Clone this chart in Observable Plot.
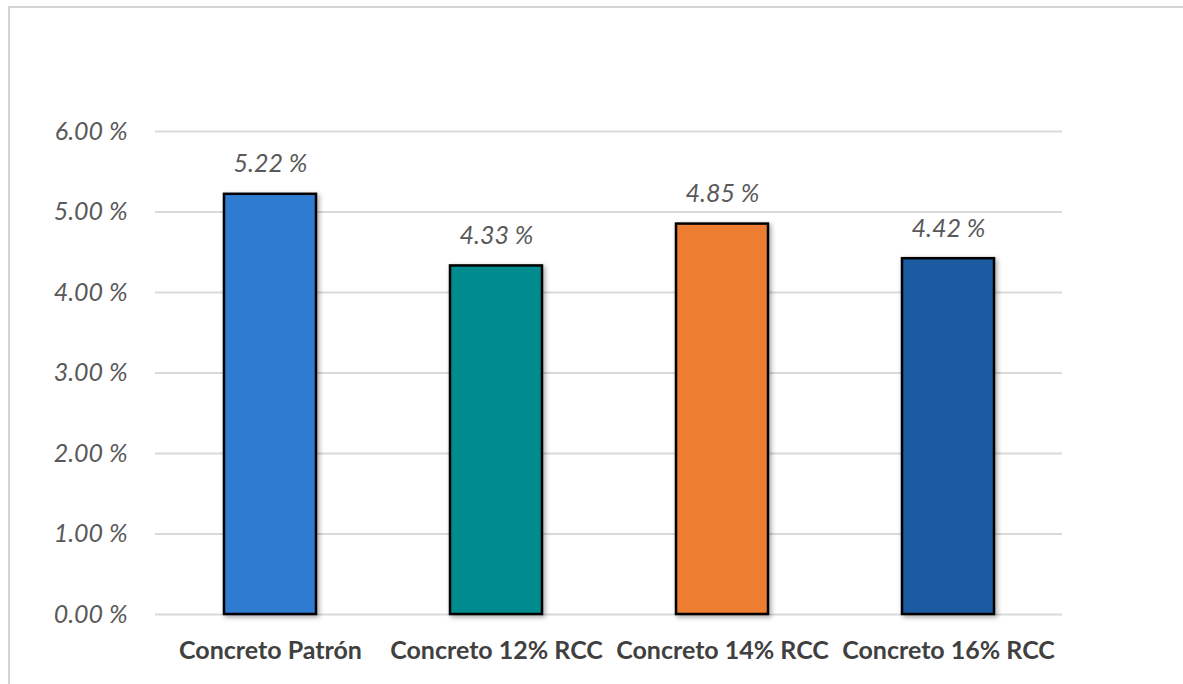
<!DOCTYPE html>
<html>
<head>
<meta charset="utf-8">
<script src="https://cdn.jsdelivr.net/npm/d3@7"></script>
<script src="https://cdn.jsdelivr.net/npm/@observablehq/plot@0.6"></script>
<style>
  html, body { margin: 0; padding: 0; background: #fff; }
  #chart { position: relative; width: 1183px; height: 684px; overflow: hidden; }
  #frame { position: absolute; left: 8px; top: 6px; right: -4px; bottom: -4px;
           border-top: 2px solid #d4d4d4; border-left: 2px solid #d4d4d4; }
  #chart svg { position: absolute; left: 0; top: 0; }
  .bars rect { filter: drop-shadow(2px 2px 2.5px rgba(0,0,0,0.35)); }
</style>
</head>
<body>
<div id="chart"><div id="frame"></div></div>
<script>
// Air content of each concrete mix (%)
const categories = ["Concreto Patrón", "Concreto 12% RCC", "Concreto 14% RCC", "Concreto 16% RCC"];
const values = [5.22, 4.33, 4.85, 4.42];
const colors = ["#2F7BCF", "#008C8E", "#ED7D31", "#1A5BA1"];
const yTicks = [0, 1, 2, 3, 4, 5, 6];

const data = categories.map((c, i) => ({category: c, value: values[i], color: colors[i]}));
const pct = v => v.toFixed(2) + " %";

const plot = Plot.plot({
  width: 1183,
  height: 684,
  marginLeft: 155,
  marginRight: 121,
  marginTop: 131,
  marginBottom: 70,
  style: {background: "transparent", overflow: "visible"},
  // each category gets an equal slot; bar centred in its slot
  x: {domain: categories, paddingInner: 0.595, paddingOuter: 0.2975, label: null},
  y: {domain: [0, 6], label: null},
  marks: [
    Plot.gridY(yTicks, {stroke: "#d9d9d9", strokeWidth: 2, strokeOpacity: 1}),
    Plot.axisY({
      ticks: yTicks, tickSize: 0, tickPadding: 28, tickFormat: pct,
      fontFamily: "Lato", fontStyle: "italic", fontSize: 25, fill: "#595959", label: null
    }),
    Plot.axisX({
      tickSize: 0, tickPadding: 27,
      fontFamily: "Lato", fontWeight: "bold", fontSize: 25, fill: "#404040", label: null
    }),
    Plot.barY(data, {
      x: "category", y: "value", fill: "color",
      stroke: "#000", strokeWidth: 2.5, className: "bars"
    }),
    Plot.text(data, {
      x: "category", y: "value", text: d => pct(d.value), dy: -30,
      fontFamily: "Lato", fontStyle: "italic", fontSize: 25, fill: "#595959"
    })
  ]
});
document.getElementById("chart").appendChild(plot);
</script>
</body>
</html>
